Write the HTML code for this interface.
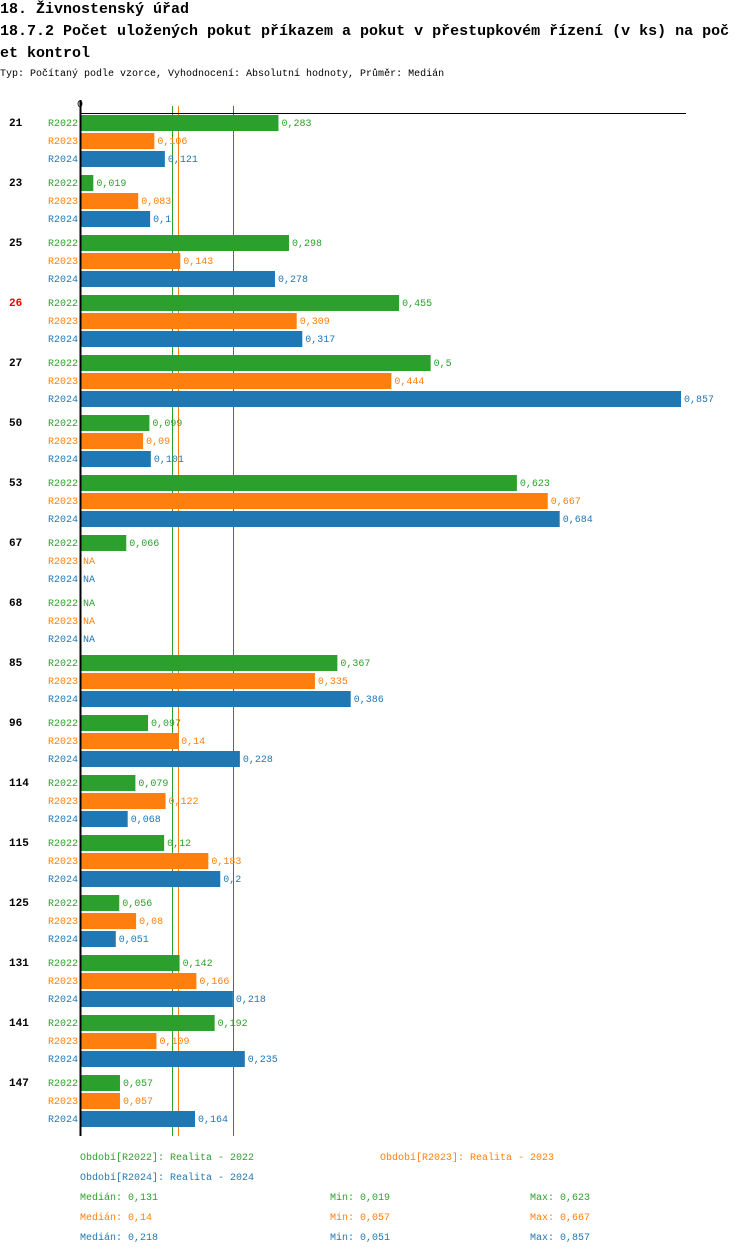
<!DOCTYPE html>
<html><head><meta charset="utf-8"><style>
body{margin:0;background:#fff;width:750px;height:1254px;overflow:hidden;font-family:"Liberation Mono",monospace}
svg text{font-family:"Liberation Mono",monospace}
</style></head><body>
<svg id="c" width="750" height="1254" xmlns="http://www.w3.org/2000/svg">
<text x="0" y="13" font-size="15" font-weight="bold">18. Živnostenský úřad</text>
<text x="0" y="35" font-size="15" font-weight="bold">18.7.2 Počet uložených pokut příkazem a pokut v přestupkovém řízení (v ks) na poč</text>
<text x="0" y="57" font-size="15" font-weight="bold">et kontrol</text>
<text x="0" y="76" font-size="10">Typ: Počítaný podle vzorce, Vyhodnocení: Absolutní hodnoty, Průměr: Medián</text>
<text x="80" y="107" font-size="10" text-anchor="middle">0</text>
<g id="medians"></g>
<g id="bars"></g>
<line x1="80" y1="113.5" x2="686" y2="113.5" stroke="#000" stroke-width="1"/>
<line x1="80.5" y1="100" x2="80.5" y2="1136" stroke="#000" stroke-width="2"/>
<g font-size="10">
<text x="80" y="1160" fill="#2ca02c">Období[R2022]: Realita - 2022</text>
<text x="380" y="1160" fill="#ff7f0e">Období[R2023]: Realita - 2023</text>
<text x="80" y="1180" fill="#1f77b4">Období[R2024]: Realita - 2024</text>
<text x="80" y="1200" fill="#2ca02c">Medián: 0,131</text>
<text x="330" y="1200" fill="#2ca02c">Min: 0,019</text>
<text x="530" y="1200" fill="#2ca02c">Max: 0,623</text>
<text x="80" y="1220" fill="#ff7f0e">Medián: 0,14</text>
<text x="330" y="1220" fill="#ff7f0e">Min: 0,057</text>
<text x="530" y="1220" fill="#ff7f0e">Max: 0,667</text>
<text x="80" y="1240" fill="#1f77b4">Medián: 0,218</text>
<text x="330" y="1240" fill="#1f77b4">Min: 0,051</text>
<text x="530" y="1240" fill="#1f77b4">Max: 0,857</text>
</g>
</svg>
<script>
const categories=["21","23","25","26","27","50","53","67","68","85","96","114","115","125","131","141","147"];
const series=["R2022","R2023","R2024"];
const r2022=[0.283,0.019,0.298,0.455,0.5,0.099,0.623,0.066,null,0.367,0.097,0.079,0.12,0.056,0.142,0.192,0.057];
const r2023=[0.106,0.083,0.143,0.309,0.444,0.09,0.667,null,null,0.335,0.14,0.122,0.183,0.08,0.166,0.109,0.057];
const r2024=[0.121,0.1,0.278,0.317,0.857,0.101,0.684,null,null,0.386,0.228,0.068,0.2,0.051,0.218,0.235,0.164];
const medians=[0.131,0.14,0.218];
const colors=["#2ca02c","#ff7f0e","#1f77b4"];
const NS="http://www.w3.org/2000/svg";
const g=document.getElementById('bars');
const gm=document.getElementById('medians');
const X0=80,SCALE=701.3;
function x(v){return X0+v*SCALE;}
function groupY(i){return 114+i*60;}
const data=[r2022,r2023,r2024];
function mk(t,a,p){const e=document.createElementNS(NS,t);for(const k in a)e.setAttribute(k,a[k]);(p||g).appendChild(e);return e;}
medians.forEach((m,j)=>{
  const ln=mk('line',{x1:Math.round(x(m))+0.5,y1:106,x2:Math.round(x(m))+0.5,y2:1136,stroke:colors[j],'stroke-width':1},gm);
  
  
});
categories.forEach((c,i)=>{
  const t=mk('text',{x:9,y:groupY(i)+12,'font-size':11,'font-weight':'bold',fill:c==="26"?"#e00":"#000"});
  t.textContent=c;
  
  
  series.forEach((s,j)=>{
    const y=groupY(i)+j*18;
    const l=mk('text',{x:78,y:y+12,'font-size':10,'text-anchor':'end',fill:colors[j]});
    l.textContent=s;
    
    
    const v=data[j][i];
    if(v!==null){
      const r=mk('rect',{x:X0,y:y+1,width:x(v)-X0,height:16,fill:colors[j]});
      
      
    }
    const vt=mk('text',{x:(v===null?X0:x(v))+3,y:y+12,'font-size':10,fill:colors[j]});
    vt.textContent=v===null?"NA":String(v).replace('.',',');
    
    
  });
});
</script>
</body></html>
